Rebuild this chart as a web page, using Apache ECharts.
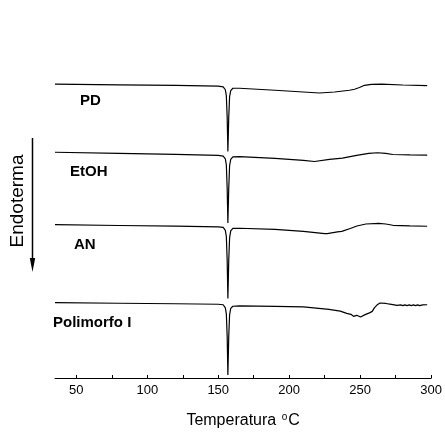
<!DOCTYPE html>
<html>
<head>
<meta charset="utf-8">
<script src="https://cdn.jsdelivr.net/npm/echarts@6/dist/echarts.min.js"></script>
<style>
  html, body { margin: 0; padding: 0; background: #fff; }
  #chart { width: 445px; height: 435px; }
</style>
</head>
<body>
<div id="chart"></div>
<script>
// Temperature (°C) and heat-flow traces (arbitrary units, stacked offsets)
const tempPD = [35, 80, 120, 150, 153.5, 155.0, 155.7, 156.3, 156.8, 157.4, 158.0, 158.8, 160.3, 165, 190, 221.3, 232, 242.4, 246, 249.5, 253, 258, 265, 280, 297.2];
const hfPD   = [29.77, 29.70, 29.65, 29.57, 29.50, 29.20, 28.60, 26.40, 22.95, 26.40, 28.50, 29.10, 29.35, 29.35, 29.15, 28.87, 28.97, 29.15, 29.25, 29.43, 29.65, 29.74, 29.77, 29.68, 29.62];

const tempEtOH = [35, 80, 120, 150, 153.5, 155.0, 155.7, 156.3, 156.8, 157.4, 158.0, 158.8, 160.3, 165, 190, 210, 217.8, 228.4, 237.5, 247.5, 256, 262.3, 268, 273, 285, 297.2];
const hfEtOH   = [22.87, 22.75, 22.65, 22.55, 22.48, 22.20, 21.60, 19.20, 15.70, 19.20, 21.50, 22.15, 22.40, 22.42, 22.25, 22.05, 21.93, 22.15, 22.27, 22.55, 22.75, 22.82, 22.75, 22.64, 22.60, 22.57];

const tempAN = [35, 80, 120, 150, 153.5, 155.0, 155.7, 156.3, 156.8, 157.4, 158.0, 158.8, 160.3, 165, 190, 210, 225, 226.8, 227.5, 234, 237, 243, 247.7, 254, 263, 268, 273, 285, 297.2];
const hfAN   = [15.53, 15.45, 15.38, 15.30, 15.25, 14.95, 14.35, 11.90, 8.05, 11.90, 14.20, 14.90, 15.15, 15.17, 15.05, 14.85, 14.62, 14.63, 14.78, 14.80, 14.85, 15.15, 15.40, 15.60, 15.67, 15.60, 15.47, 15.40, 15.37];

const tempPoli = [35, 80, 120, 150, 153.5, 155.0, 155.7, 156.3, 156.8, 157.4, 158.0, 158.8, 160.3, 165, 190, 210, 228, 236, 240.5, 243.5, 245.3, 246.5, 247.6, 249, 250.2, 251.5, 253.5, 256.5, 258.5, 260, 262.3, 264, 268, 272, 276, 278.5, 280, 281.5, 283, 284.5, 286, 287.5, 289, 290.5, 292, 294, 297.2];
const hfPoli   = [7.63, 7.57, 7.52, 7.47, 7.42, 7.10, 6.50, 4.20, 0.30, 4.20, 6.40, 7.05, 7.27, 7.30, 7.25, 7.20, 6.95, 6.78, 6.55, 6.45, 6.25, 6.20, 6.35, 6.30, 6.18, 6.25, 6.42, 6.60, 6.75, 7.10, 7.45, 7.60, 7.55, 7.45, 7.35, 7.41, 7.33, 7.41, 7.33, 7.41, 7.33, 7.41, 7.33, 7.41, 7.33, 7.41, 7.42];

const sampleNames = ['PD', 'EtOH', 'AN', 'Polimorfo I'];
const xTickLabels = [50, 100, 150, 200, 250, 300];
const xTickMarks = [50, 75, 100, 125, 150, 175, 200, 225, 250, 275, 300];

const FONT = "'Liberation Sans', Arial, sans-serif";
const pair = (xs, ys) => xs.map((x, i) => [x, ys[i]]);
const traces = [[tempPD, hfPD], [tempEtOH, hfEtOH], [tempAN, hfAN], [tempPoli, hfPoli]];

const chart = echarts.init(document.getElementById('chart'), null, { renderer: 'canvas' });

const labelPos = [[80, 102], [70, 173], [74, 246], [53, 324]];

chart.setOption({
  animation: false,
  backgroundColor: '#fff',
  grid: { left: 55, right: 13, top: 70, bottom: 53 },
  xAxis: {
    type: 'value',
    min: 35,
    max: 300,
    splitLine: { show: false },
    axisLine: { show: true, onZero: false, lineStyle: { color: '#000', width: 1 } },
    axisTick: { show: true, inside: true, length: 3, customValues: xTickMarks, lineStyle: { color: '#000' } },
    axisLabel: { customValues: xTickLabels, color: '#000', fontFamily: FONT, fontSize: 13, margin: 6 },
    name: 'Temperatura {s|o}C',
    nameLocation: 'middle',
    nameGap: 34,
    nameTextStyle: {
      color: '#000', fontFamily: FONT, fontSize: 16, lineHeight: 18,
      rich: { s: { fontSize: 10, fontFamily: FONT, color: '#000', verticalAlign: 'top', lineHeight: 10, padding: [0, 1, 0, 1] } }
    }
  },
  yAxis: { type: 'value', min: 0, max: 31.2, show: false },
  series: traces.map((t, i) => ({
    name: sampleNames[i],
    type: 'line',
    data: pair(t[0], t[1]),
    showSymbol: false,
    symbol: 'none',
    lineStyle: { color: '#000', width: 1.2 },
    silent: true
  })),
  graphic: [
    ...sampleNames.map((n, i) => ({
      type: 'text',
      left: labelPos[i][0],
      top: labelPos[i][1] - 9,
      style: { text: n, fill: '#000', font: 'bold 15px ' + FONT }
    })),
    {
      type: 'text',
      x: 18, y: 201,
      rotation: Math.PI / 2,
      style: { text: 'Endoterma', fill: '#000', font: '19px ' + FONT, align: 'center', verticalAlign: 'middle' }
    },
    { type: 'line', shape: { x1: 32.5, y1: 138, x2: 32.5, y2: 262 }, style: { stroke: '#000', lineWidth: 1.5 } },
    { type: 'polygon', shape: { points: [[29.8, 258], [35.2, 258], [32.5, 272]] }, style: { fill: '#000' } }
  ]
});
</script>
</body>
</html>
